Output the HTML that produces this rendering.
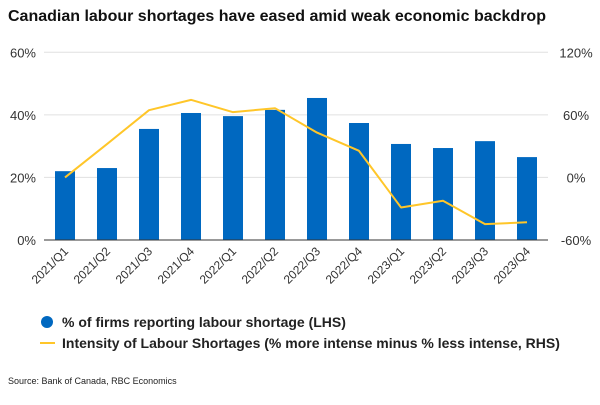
<!DOCTYPE html>
<html><head><meta charset="utf-8"><style>
body{margin:0;background:#fff;font-family:"Liberation Sans",sans-serif}
svg text{font-family:"Liberation Sans",sans-serif}
</style></head><body>
<svg width="600" height="400">
<text x="8" y="21" font-size="16" font-weight="bold" fill="#111">Canadian labour shortages have eased amid weak economic backdrop</text>
<g id="grid"></g><g id="bars"></g><g id="line"></g><g id="axes"></g>
<g>
<circle cx="47" cy="322" r="6" fill="#0068c0"/>
<text x="62" y="327" font-size="14" font-weight="bold" fill="#222">% of firms reporting labour shortage (LHS)</text>
<line x1="40" y1="343" x2="55" y2="343" stroke="#ffc629" stroke-width="2"/>
<text x="62" y="348" font-size="14" font-weight="bold" fill="#222">Intensity of Labour Shortages (% more intense minus % less intense, RHS)</text>
</g>
<text x="8" y="384" font-size="9" fill="#222">Source: Bank of Canada, RBC Economics</text>
</svg>
<script>
const categories=["2021/Q1","2021/Q2","2021/Q3","2021/Q4","2022/Q1","2022/Q2","2022/Q3","2022/Q4","2023/Q1","2023/Q2","2023/Q3","2023/Q4"];
const shortageShare=[22,23,35.5,40.6,39.6,41.6,45.4,37.4,30.7,29.4,31.6,26.5];
const intensity=[0,32,64.5,74.4,62.6,66.4,43,25.5,-28.8,-22.4,-44.8,-43];
const leftTicks=[0,20,40,60];
const rightTicks=[-60,0,60,120];
const NS="http://www.w3.org/2000/svg";
const X0=44,X1=548,Y0=240,Y1=52.3;
const band=(X1-X0)/categories.length;
const xC=i=>X0+band*(i+0.5);
const yL=v=>Y0-(v-0)/60*(Y0-Y1);
const yR=v=>Y0-(v+60)/180*(Y0-Y1);
function mk(t,a,p){const e=document.createElementNS(NS,t);for(const k in a)e.setAttribute(k,a[k]);p.appendChild(e);return e;}
const grid=document.getElementById('grid'),bars=document.getElementById('bars'),line=document.getElementById('line'),axes=document.getElementById('axes');
leftTicks.forEach((v,i)=>{
 const y=yL(v);
 if(v!==0){const g=mk('line',{x1:X0,x2:X1,y1:y,y2:y,stroke:'#e0e0e0','stroke-width':1},grid);
 
 }
 const t=mk('text',{x:36,y:y+5,'text-anchor':'end','font-size':13,fill:'#333'},axes);t.textContent=v+'%';
 
 
});
rightTicks.forEach(v=>{
 const t=mk('text',{x:576,y:yR(v)+5,'text-anchor':'middle','font-size':13,fill:'#333'},axes);t.textContent=v+'%';
 
 
});
const ax=mk('line',{x1:X0,x2:X1,y1:Y0,y2:Y0,stroke:'#333','stroke-width':1},axes);


shortageShare.forEach((v,i)=>{
 const r=mk('rect',{x:xC(i)-10,y:yL(v),width:20,height:Y0-yL(v),fill:'#0068c0'},bars);
 
 
 const t=mk('text',{x:xC(i)+4,y:Y0+12,'text-anchor':'end','font-size':12,fill:'#333',transform:`rotate(-45 ${xC(i)+4} ${Y0+12})`},axes);
 t.textContent=categories[i];
 
 
});
const pl=mk('polyline',{points:intensity.map((v,i)=>xC(i)+','+yR(v)).join(' '),fill:'none',stroke:'#ffc629','stroke-width':2,'stroke-linejoin':'round'},line);


</script>
</body></html>
